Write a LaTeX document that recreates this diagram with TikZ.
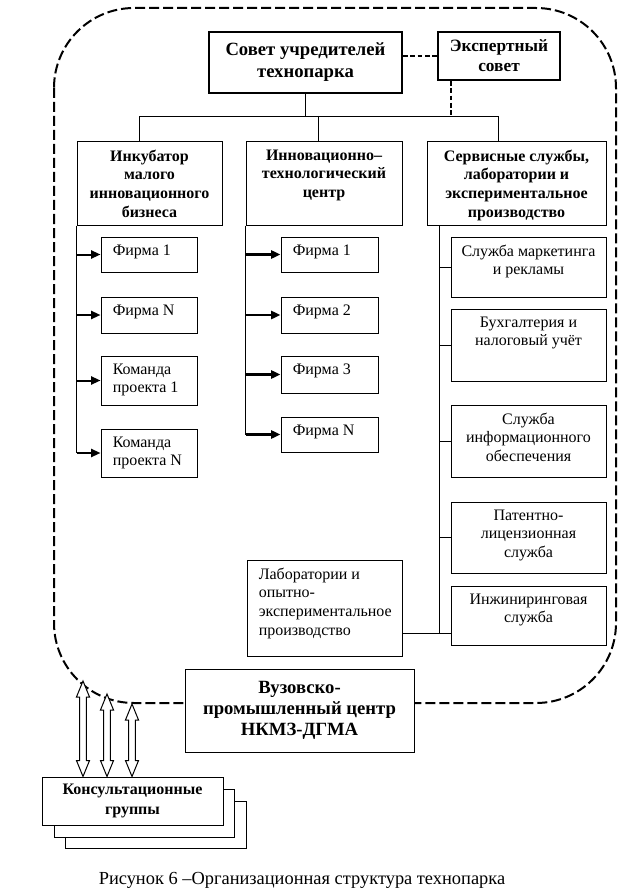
\documentclass[tikz,border=0pt]{standalone}
\usepackage{fontspec}
\setmainfont{Liberation Serif}
\usetikzlibrary{fit,calc,arrows.meta}

\tikzset{
  box/.style={draw, inner sep=0pt, line width=.75pt},
  thickbox/.style={box, line width=1.5pt},
  txt/.style={inner sep=0pt, align=center, font=\fontsize{12}{14}\selectfont},
  btxt/.style={inner sep=0pt, align=center, font=\fontsize{12}{14}\selectfont\bfseries},
  ttop/.style={label={[txt, anchor=north, yshift=-6pt]north:{#1}}},
  btop/.style={label={[btxt, anchor=north, yshift=-6pt]north:{#1}}},
  tleft/.style={label={[txt, align=left, anchor=north west, xshift=9pt, yshift=-6pt]north west:{#1}}},
  bmid/.style n args={3}{label={[btxt, anchor=center, font=\fontsize{#1}{#2}\selectfont\bfseries]center:{#3}}},
  arr/.style={-{Triangle[length=7pt, width=6pt]}, line width=1.2pt},
  dots/.style={line width=1.5pt, dash pattern=on 3.5pt off 2pt},
  hollow/.style={fill=white, line width=.75pt, to path={
    let \p1=(\tikztostart), \p2=(\tikztotarget) in
    (\x1,\y1) -- (\x1+4.9pt,\y1-12pt) -- (\x1+2.6pt,\y1-12pt) -- (\x1+2.6pt,\y2+12pt)
    -- (\x1+4.9pt,\y2+12pt) -- (\x1,\y2) -- (\x1-4.9pt,\y2+12pt) -- (\x1-2.6pt,\y2+12pt)
    -- (\x1-2.6pt,\y1-12pt) -- (\x1-4.9pt,\y1-12pt) -- cycle}}
}

\begin{document}
\begin{tikzpicture}[x=0.75pt, y=-0.75pt]
\useasboundingbox (0,0) rectangle (617,891);

% technopark border
\draw[line width=1.5pt, dash pattern=on 7.5pt off 3pt, rounded corners=60pt] (54,8) rectangle (616,703);

\node[thickbox, fit={(209,32) (402,93)}, bmid={14}{16.5}{Совет учредителей\\технопарка}] (sov) {};
\node[thickbox, fit={(438,32) (560,80)}, bmid={13}{15}{Экспертный\\совет}] (exp) {};

\node[box, fit={(77,142) (222,225)}, btop={Инкубатор\\малого\\инновационного\\бизнеса}] (inc) {};
\node[box, fit={(246,142) (402,225)}, btop={Инновационно--\\технологический\\центр}] (itc) {};
\node[box, fit={(427,142) (606,225)}, btop={Сервисные службы,\\лаборатории и\\экспериментальное\\производство}] (srv) {};

\coordinate (busl) at (139,116);
\coordinate (busm) at (318,116);
\coordinate (busx) at (451,116);
\coordinate (busr) at (498,116);
\draw (sov.south) -- (sov.south |- busl);
\draw (busl |- inc.north) -- (busl) -- (busr) -- (busr |- srv.north);
\draw (busm) -- (busm |- itc.north);
\draw[dots] (sov.east |- exp.west) -- (exp.west);
\draw[dots] (busx |- exp.south) -- (busx);

% incubator
\node[box, fit={(101,237) (197,272)}, tleft={Фирма 1}] (l1) {};
\node[box, fit={(101,297) (197,333)}, tleft={Фирма N}] (l2) {};
\node[box, fit={(101,356) (197,405)}, tleft={Команда\\проекта 1}] (l3) {};
\node[box, fit={(101,429) (197,477)}, tleft={Команда\\проекта N}] (l4) {};
\draw (inc.south west) -- (inc.south west |- l4.west);
\foreach \i in {1,...,4}
  \draw[arr, line width=1.5pt] (inc.south west |- l\i.west) -- (l\i.west);

% innovation centre
\node[box, fit={(281,237) (378,272)}, tleft={Фирма 1}] (m1) {};
\node[box, fit={(281,297) (378,333)}, tleft={Фирма 2}] (m2) {};
\node[box, fit={(281,356) (378,393)}, tleft={Фирма 3}] (m3) {};
\node[box, fit={(281,417) (378,452)}, tleft={Фирма N}] (m4) {};
\draw (itc.south west) -- (itc.south west |- m4.west);
\foreach \i in {1,...,4}
  \draw[arr, line width=2pt] (itc.south west |- m\i.west) -- (m\i.west);

% services
\node[box, fit={(451,237) (606,297)}, ttop={Служба маркетинга\\и рекламы}] (r1) {};
\node[box, fit={(451,309) (606,381)}, ttop={Бухгалтерия и\\налоговый учёт}] (r2) {};
\node[box, fit={(451,405) (606,477)}, ttop={Служба\\информационного\\обеспечения}] (r3) {};
\node[box, fit={(451,502) (606,573)}, ttop={Патентно-\\лицензионная\\служба}] (r4) {};
\node[box, fit={(451,586) (606,645)}, ttop={Инжиниринговая\\служба}] (r5) {};
\node[box, fit={(247,560) (402,656)}, tleft={Лаборатории и\\опытно-\\экспериментальное\\производство}] (lab) {};
\coordinate (j) at (439,633);
\draw (j |- srv.south) -- (j);
\foreach \i in {1,...,4}
  \draw (j |- r\i.west) -- (r\i.west);
\draw (lab.east |- j) -- (r5.west |- j);

\node[box, fill=white, fit={(185,669) (414,752)}, bmid={14}{16}{Вузовско-\\промышленный центр\\НКМЗ-ДГМА}] (vuz) {};

% consulting groups
\node[box, fill=white, fit={(65,801) (246,848)}] (k3) {};
\node[box, fill=white, fit={(54,789) (234,837)}] (k2) {};
\node[box, fill=white, fit={(42,777) (223,825)}, bmid={12}{15}{Консультационные\\группы}] (k1) {};

\coordinate (a1) at (83,681);
\coordinate (a2) at (107,694);
\coordinate (a3) at (132,704);
\foreach \i in {1,2,3} {
  \coordinate (b\i) at (a\i |- k1.north);
  \draw[hollow] (a\i) to (b\i);
}

\node[inner sep=0pt, font=\fontsize{13.8}{16}\selectfont] (cap) at (302,880) {Рисунок 6 –Организационная структура технопарка};
\end{tikzpicture}
\end{document}
